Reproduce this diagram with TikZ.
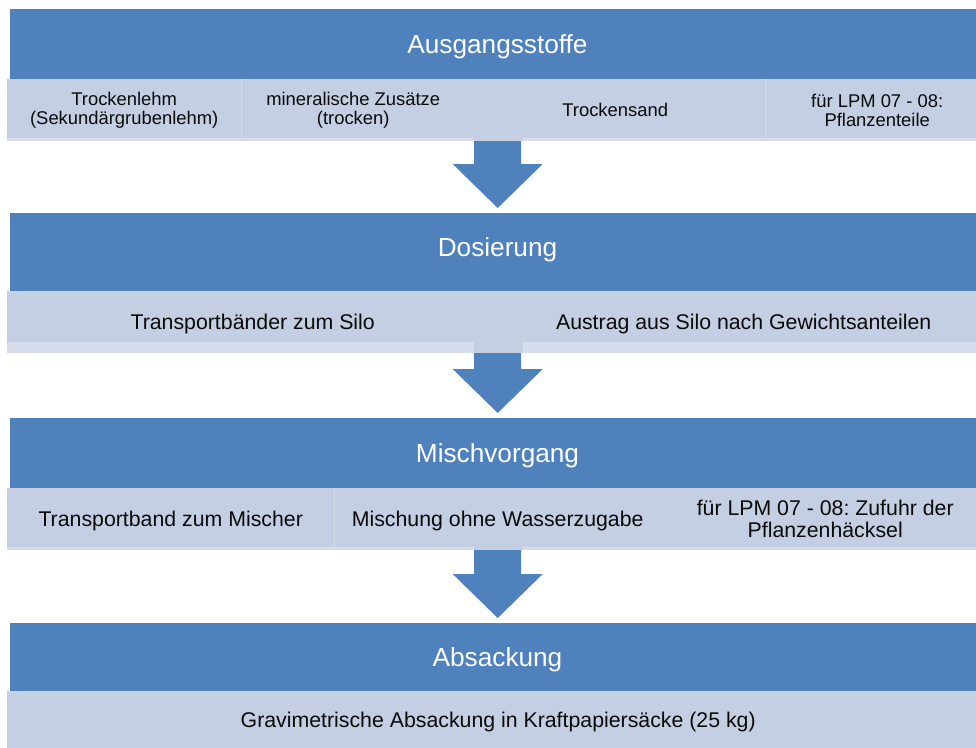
\documentclass[tikz,border=0pt]{standalone}
\usepackage{fontspec}
\setmainfont{Liberation Sans}
\frenchspacing
\usetikzlibrary{calc}
\definecolor{hdblue}{RGB}{79,129,189}
\definecolor{cellfill}{RGB}{196,207,227}
\definecolor{cellstrip}{RGB}{214,220,236}
\definecolor{cellline}{RGB}{212,220,235}
\definecolor{txt}{RGB}{10,10,10}
\newcommand\flowarrow[2]{%
  \fill[arrowfill] let \p1=(#1), \p2=(#2) in
    (\x2-23.5pt,\y1) -- (\x2+23.5pt,\y1) -- (\x2+23.5pt,\y2+49pt)
    -- (\x2+45pt,\y2+49pt) -- (\x2,\y2+5pt) -- (\x2-45pt,\y2+49pt)
    -- (\x2-23.5pt,\y2+49pt) -- cycle;}
\begin{document}
\begin{tikzpicture}[x=1pt,y=-1pt,
  hd/.style={fill=hdblue, draw=none, inner sep=0pt, minimum width=975pt, anchor=north west},
  hdtxt/.style={text=white, font=\fontsize{26.2}{28}\selectfont, text height=18.8pt, text depth=0pt, inner sep=0pt},
  cell/.style={fill=cellfill, draw=none, inner sep=0pt, anchor=north west, minimum height=62pt, text=txt},
  big/.style={font=\fontsize{21.3}{22}\selectfont, text height=15.25pt, text depth=0pt},
  small/.style={font=\fontsize{18.4}{18.5}\selectfont, align=center},
  sml/.style={font=\fontsize{21.3}{22}\selectfont, align=center},
  sep/.style={draw=cellline, line width=1pt},
  strip/.style={fill=cellstrip},
  arrowfill/.style={fill=hdblue}]
\useasboundingbox (0,0) rectangle (976,747);
\clip (0,0) rectangle (976,747);
\fill[white] (0,0) rectangle (976,747);

% headers
\node[hd, minimum height=70pt] (h1) at (10,9) {};
\node[hd, minimum height=78pt] (h2) at (10,213) {};
\node[hd, minimum height=70pt] (h3) at (10,418) {};
\node[hd, minimum height=68pt] (h4) at (10,623) {};

% arrow anchors (bottom of sub-rows)
\coordinate (r1b) at (497.5,141);
\coordinate (r2b) at (497.5,353);
\coordinate (r3b) at (497.5,550);

\flowarrow{r1b}{h2.north}
\flowarrow{r2b}{h3.north}
\flowarrow{r3b}{h4.north}

% row 1
\node[cell, small, minimum width=234pt] (c11) at (7,79) {Trockenlehm\\(Sekundärgrubenlehm)};
\node[cell, small, minimum width=224pt] (c12) at (241,79) {mineralische Zusätze\\(trocken)};
\node[cell, small, minimum width=300pt] (c13) at (465,79) {Trockensand};
\node[cell, small, minimum width=224pt] (c14) at (765,79) {für LPM 07 - 08:\\Pflanzenteile};
% row 2
\node[cell, big, minimum width=491pt] (c21) at (7,291) {Transportbänder zum Silo};
\node[cell, big, minimum width=491pt] (c22) at (498,291) {Austrag aus Silo nach Gewichtsanteilen};
% row 3
\node[cell, big, minimum width=327pt] (c31) at (7,488) {Transportband zum Mischer};
\node[cell, big, minimum width=327pt] (c32) at (334,488) {Mischung ohne Wasserzugabe};
\node[cell, sml, minimum width=328pt] (c33) at (661,488) {für LPM 07 - 08: Zufuhr der\\Pflanzenhäcksel};
% row 4
\node[cell, big, minimum width=982pt, minimum height=58pt] (c41) at (7,691) {Gravimetrische Absackung in Kraftpapiersäcke (25 kg)};

% cell separators
\draw[sep] (c11.north east) -- ([yshift=3pt]c11.south east);
\draw[sep] (c13.north east) -- ([yshift=3pt]c13.south east);
\draw[sep] (c31.north east) -- ([yshift=3pt]c31.south east);

% lower light strips
\fill[strip] (7,138) rectangle (474,141);
\fill[strip] (523,138) rectangle (989,141);
\fill[strip] (7,342) rectangle (474,353);
\fill[strip] (523,342) rectangle (989,353);
\fill[strip] (7,547) rectangle (474,550);
\fill[strip] (523,547) rectangle (989,550);

% header texts
\node[hdtxt] (t1) at (497.5,44) {Ausgangsstoffe};
\node[hdtxt] (t2) at (497.5,247) {Dosierung};
\node[hdtxt] (t3) at (497.5,453) {Mischvorgang};
\node[hdtxt] (t4) at (497.5,657) {Absackung};
\end{tikzpicture}
\end{document}
